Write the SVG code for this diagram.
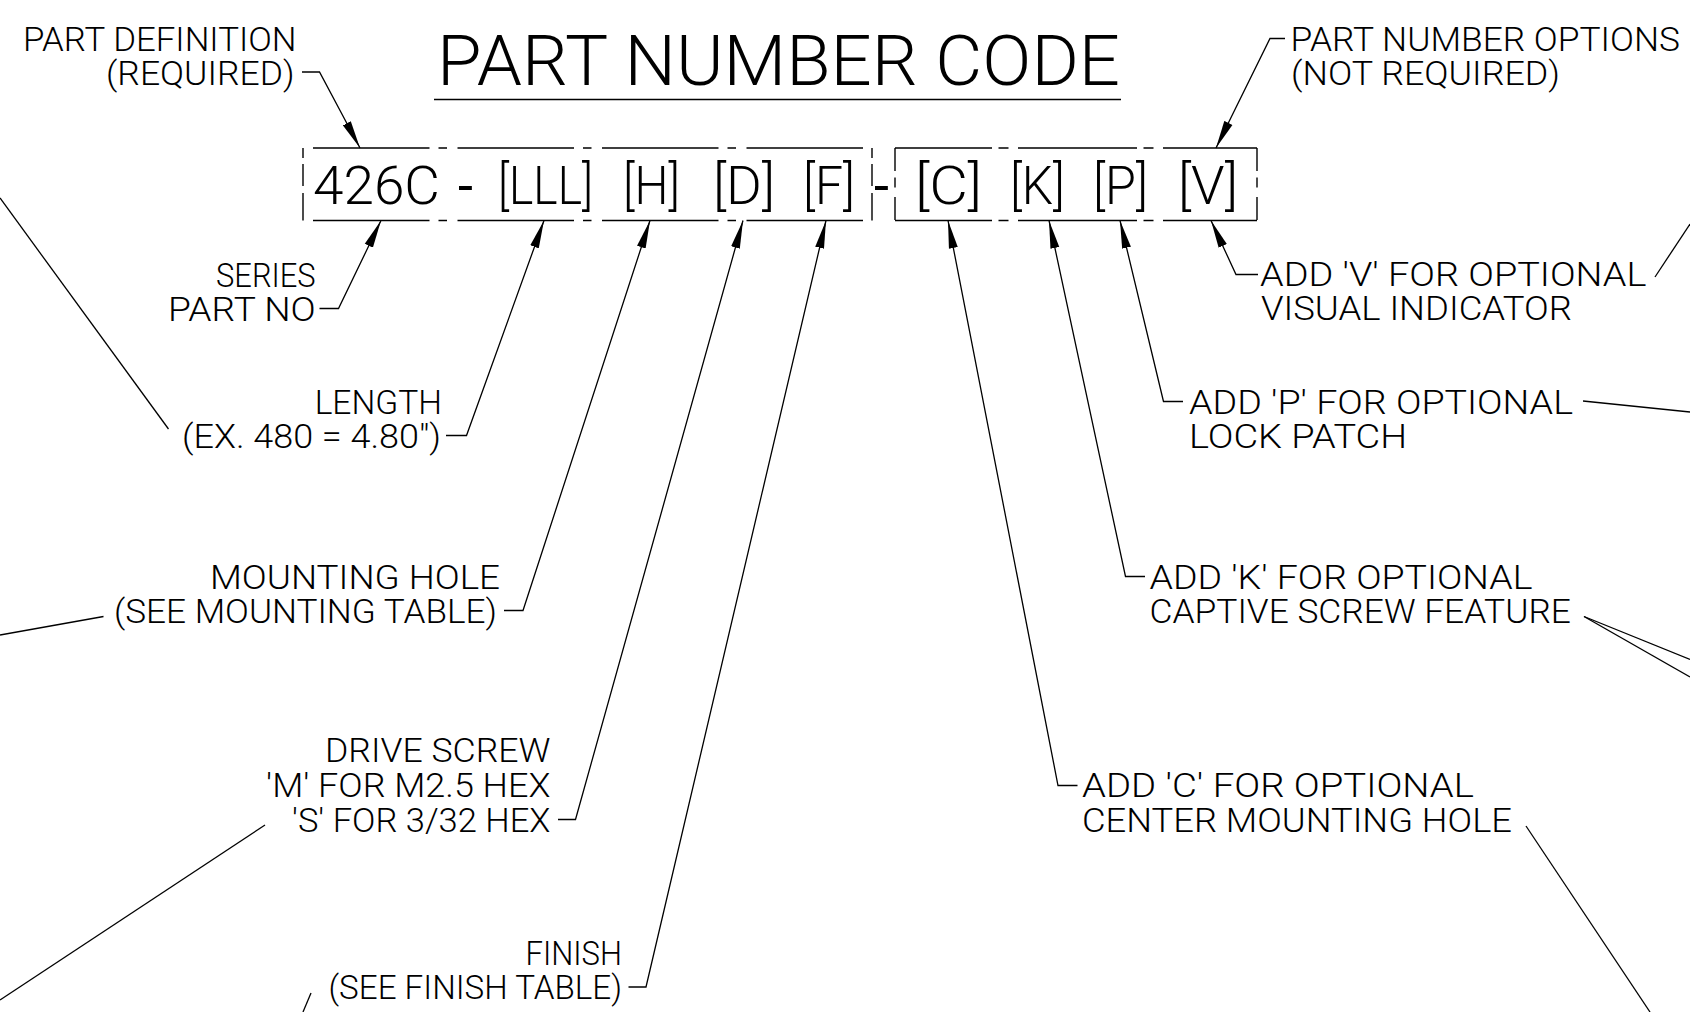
<svg xmlns="http://www.w3.org/2000/svg" width="1690" height="1012" viewBox="0 0 1690 1012">
<style>
text{font-family:Roboto,"Liberation Sans",Arial,sans-serif;font-weight:300;fill:#000}
.lbl{font-size:33px}
.code{font-size:54px}
.title{font-size:70px}
.ln{fill:none;stroke:#000;stroke-width:1.3}
.b1{stroke:#000;stroke-width:1.4;stroke-dasharray:116.5 9 8.5 10.5}
.b2{stroke:#000;stroke-width:1.4;stroke-dasharray:119 6.5 10 9.5;stroke-dashoffset:22}
.v1{stroke:#000;stroke-width:1.4;stroke-dasharray:10 6 22 7 28}
.v2{stroke:#000;stroke-width:1.4;stroke-dasharray:23 6.5 10 9.5 23}
</style>
<defs>
<marker id="ah" markerWidth="28" markerHeight="10" refX="28" refY="5" orient="auto" markerUnits="userSpaceOnUse" viewBox="0 0 28 10">
<path d="M0,0.5 L28,5 L0,9.5 z" fill="#000"/>
</marker>
</defs>
<rect width="1690" height="1012" fill="#fff"/>

<g id="title">
<text class="title" x="437" y="85" textLength="683" lengthAdjust="spacingAndGlyphs">PART NUMBER CODE</text>
<line class="ln" x1="434" y1="99.5" x2="1121" y2="99.5"/>
</g>

<g id="code-required">
<line class="b1" x1="313" y1="148" x2="863" y2="148"/>
<line class="b1" x1="313" y1="220.5" x2="863" y2="220.5"/>
<line class="v1" x1="303" y1="148" x2="303" y2="220.5"/>
<line class="v1" x1="872" y1="148" x2="872" y2="220.5"/>
<text class="code" x="313" y="204" textLength="127" lengthAdjust="spacingAndGlyphs">426C</text>
<text class="code" x="458" y="204" style="font-weight:400">-</text>
<text class="code" x="498" y="204" textLength="95" lengthAdjust="spacingAndGlyphs">[LLL]</text>
<text class="code" x="623" y="204" textLength="57" lengthAdjust="spacingAndGlyphs">[H]</text>
<text class="code" x="713" y="204" textLength="62" lengthAdjust="spacingAndGlyphs">[D]</text>
<text class="code" x="803" y="204" textLength="52" lengthAdjust="spacingAndGlyphs">[F]</text>
</g>
<g id="code-sep">
<text class="code" x="874" y="204" style="font-weight:400">-</text>
</g>
<g id="code-options">
<line class="b2" x1="895" y1="148" x2="1257" y2="148"/>
<line class="b2" x1="895" y1="220.5" x2="1257" y2="220.5"/>
<line class="v2" x1="895" y1="148" x2="895" y2="220.5"/>
<line class="v2" x1="1257" y1="148" x2="1257" y2="220.5"/>
<text class="code" x="915" y="204" textLength="67" lengthAdjust="spacingAndGlyphs">[C]</text>
<text class="code" x="1010" y="204" textLength="55" lengthAdjust="spacingAndGlyphs">[K]</text>
<text class="code" x="1093" y="204" textLength="55" lengthAdjust="spacingAndGlyphs">[P]</text>
<text class="code" x="1178" y="204" textLength="60" lengthAdjust="spacingAndGlyphs">[V]</text>
</g>

<g id="lbl-part-def">
<text class="lbl" x="23" y="50.5" textLength="273.5" lengthAdjust="spacingAndGlyphs">PART DEFINITION</text>
<text class="lbl" x="106" y="84.5" textLength="188.5" lengthAdjust="spacingAndGlyphs">(REQUIRED)</text>
</g>
<g id="lbl-series">
<text class="lbl" x="216" y="287" textLength="99.7" lengthAdjust="spacingAndGlyphs">SERIES</text>
<text class="lbl" x="168" y="320.5" textLength="147.7" lengthAdjust="spacingAndGlyphs">PART NO</text>
</g>
<g id="lbl-length">
<text class="lbl" x="314.7" y="413.5" textLength="127.3" lengthAdjust="spacingAndGlyphs">LENGTH</text>
<text class="lbl" x="182" y="447.5" textLength="259" lengthAdjust="spacingAndGlyphs">(EX. 480 = 4.80")</text>
</g>
<g id="lbl-mounting">
<text class="lbl" x="210" y="588.5" textLength="290" lengthAdjust="spacingAndGlyphs">MOUNTING HOLE</text>
<text class="lbl" x="114" y="622.5" textLength="383" lengthAdjust="spacingAndGlyphs">(SEE MOUNTING TABLE)</text>
</g>
<g id="lbl-drive">
<text class="lbl" x="325" y="762" textLength="225.5" lengthAdjust="spacingAndGlyphs">DRIVE SCREW</text>
<text class="lbl" x="266" y="796.5" textLength="284.5" lengthAdjust="spacingAndGlyphs">'M' FOR M2.5 HEX</text>
<text class="lbl" x="292" y="831.5" textLength="258.5" lengthAdjust="spacingAndGlyphs">'S' FOR 3/32 HEX</text>
</g>
<g id="lbl-finish">
<text class="lbl" x="525.5" y="965" textLength="96.5" lengthAdjust="spacingAndGlyphs">FINISH</text>
<text class="lbl" x="328.5" y="999" textLength="293.5" lengthAdjust="spacingAndGlyphs">(SEE FINISH TABLE)</text>
</g>
<g id="lbl-add-c">
<text class="lbl" x="1082" y="797" textLength="392" lengthAdjust="spacingAndGlyphs">ADD 'C' FOR OPTIONAL</text>
<text class="lbl" x="1082" y="831.5" textLength="430" lengthAdjust="spacingAndGlyphs">CENTER MOUNTING HOLE</text>
</g>
<g id="lbl-add-k">
<text class="lbl" x="1149.5" y="588.5" textLength="383" lengthAdjust="spacingAndGlyphs">ADD 'K' FOR OPTIONAL</text>
<text class="lbl" x="1149.5" y="622.5" textLength="421.5" lengthAdjust="spacingAndGlyphs">CAPTIVE SCREW FEATURE</text>
</g>
<g id="lbl-add-p">
<text class="lbl" x="1189" y="413.5" textLength="384" lengthAdjust="spacingAndGlyphs">ADD 'P' FOR OPTIONAL</text>
<text class="lbl" x="1189" y="447.5" textLength="218" lengthAdjust="spacingAndGlyphs">LOCK PATCH</text>
</g>
<g id="lbl-add-v">
<text class="lbl" x="1260" y="286" textLength="386.5" lengthAdjust="spacingAndGlyphs">ADD 'V' FOR OPTIONAL</text>
<text class="lbl" x="1261" y="320" textLength="311" lengthAdjust="spacingAndGlyphs">VISUAL INDICATOR</text>
</g>
<g id="lbl-options">
<text class="lbl" x="1290.5" y="50.5" textLength="389.5" lengthAdjust="spacingAndGlyphs">PART NUMBER OPTIONS</text>
<text class="lbl" x="1291" y="84.5" textLength="269" lengthAdjust="spacingAndGlyphs">(NOT REQUIRED)</text>
</g>

<g id="connectors">
<polyline class="ln" points="302,72 319.5,72 360,148" marker-end="url(#ah)"/>
<polyline class="ln" points="319.5,308.5 338.5,308.5 381,220.5" marker-end="url(#ah)"/>
<polyline class="ln" points="446,435.5 466.5,435.5 544,220.5" marker-end="url(#ah)"/>
<polyline class="ln" points="504,610.5 523,610.5 650,220.5" marker-end="url(#ah)"/>
<polyline class="ln" points="558,819.5 575.5,819.5 743,220.5" marker-end="url(#ah)"/>
<polyline class="ln" points="628.5,987 646,987 826,220.5" marker-end="url(#ah)"/>
<polyline class="ln" points="1077.5,785.5 1058,785.5 948,220.5" marker-end="url(#ah)"/>
<polyline class="ln" points="1145,576.5 1125.5,576.5 1049,220.5" marker-end="url(#ah)"/>
<polyline class="ln" points="1183,401.5 1163.5,401.5 1120,220.5" marker-end="url(#ah)"/>
<polyline class="ln" points="1258,274.5 1236,274.5 1211,220.5" marker-end="url(#ah)"/>
<polyline class="ln" points="1285,38.5 1270,38.5 1216,148" marker-end="url(#ah)"/>
<line class="ln" x1="0" y1="198" x2="168.5" y2="429"/>
<line class="ln" x1="0" y1="635" x2="103.5" y2="616.5"/>
<line class="ln" x1="0" y1="1000" x2="265" y2="825"/>
<line class="ln" x1="311" y1="993" x2="303" y2="1012"/>
<line class="ln" x1="1526" y1="826" x2="1650" y2="1012"/>
<line class="ln" x1="1584" y1="616.5" x2="1690" y2="659.5"/>
<line class="ln" x1="1584" y1="616.5" x2="1690" y2="677"/>
<line class="ln" x1="1583" y1="401" x2="1690" y2="412"/>
<line class="ln" x1="1655" y1="277" x2="1690" y2="224"/>
</g>
</svg>
